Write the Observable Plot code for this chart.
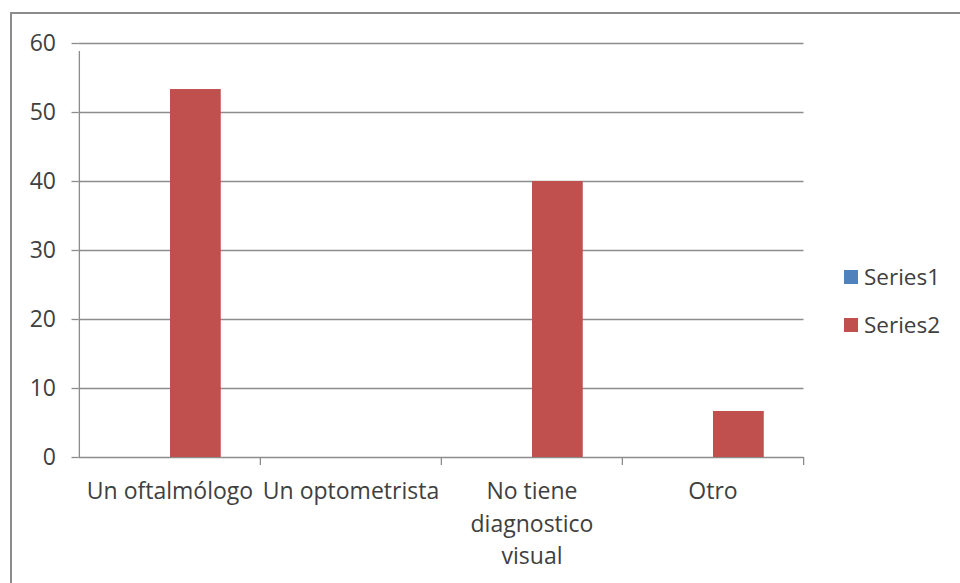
<!DOCTYPE html>
<html><head><meta charset="utf-8">
<script src="https://cdn.jsdelivr.net/npm/d3@7"></script>
<script src="https://cdn.jsdelivr.net/npm/@observablehq/plot@0.6"></script>
<style>
html,body{margin:0;padding:0;background:#fff;overflow:hidden;}
#wrap{position:relative;width:960px;height:583px;overflow:hidden;}
#border{position:absolute;left:10px;top:12px;width:1000px;height:700px;border:2px solid #8c8c8c;box-sizing:border-box;}
#chart{position:absolute;left:0;top:0;}
#legend{position:absolute;left:844px;top:262px;}
#legend .lg-swatch{font-family:"Open Sans",sans-serif;font-size:22.5px;line-height:30px;color:#404040;margin-bottom:18px;padding-bottom:0;}
#legend .lg-swatch svg{margin-right:6px;}
</style></head><body>
<div id="wrap"><div id="border"></div><div id="chart"></div><div id="legend"></div></div>
<script>
const categories = ["Un oftalmólogo", "Un optometrista", "No tiene diagnostico visual", "Otro"];
const seriesNames = ["Series1", "Series2"];
const series1 = [0, 0, 0, 0];
const series2 = [53.33, 0, 40, 6.67];
const xTickLabels = ["Un oftalmólogo", "Un optometrista", "No tiene\ndiagnostico\nvisual", "Otro"];
const yTicks = [0, 10, 20, 30, 40, 50, 60];
const seriesColors = ["#4F81BD", "#C0504D"];

const rows = [];
categories.forEach((c, i) => {
  rows.push({category: c, series: seriesNames[0], value: series1[i]});
  rows.push({category: c, series: seriesNames[1], value: series2[i]});
});

const W = 960, H = 583;
const mL = 78.5, mR = 156.5, mT = 43, mB = 126;
const bw = (W - mL - mR) / categories.length;
const barW = 51, off = 91;
const gray = "#8c8c8c";

const chart = Plot.plot({
  width: W, height: H,
  marginLeft: mL, marginRight: mR, marginTop: mT, marginBottom: mB,
  style: {fontFamily: "Open Sans, sans-serif", fontSize: "23px", color: "#404040", background: "transparent"},
  x: {type: "band", domain: categories, padding: 0},
  y: {domain: [0, 60]},
  color: {domain: seriesNames, range: seriesColors},
  marks: [
    Plot.gridY(yTicks, {stroke: gray, strokeOpacity: 1, strokeWidth: 1.3}),
    Plot.axisY(yTicks, {tickSize: 7, tickPadding: 16, stroke: gray, strokeOpacity: 1, strokeWidth: 1.3, fill: "#404040", label: null}),
    Plot.barY(rows.filter(d => d.series === seriesNames[0]), {x: "category", y: "value", fill: "series", insetLeft: bw - off - barW, insetRight: off}),
    Plot.barY(rows.filter(d => d.series === seriesNames[1]), {x: "category", y: "value", fill: "series", insetLeft: off, insetRight: bw - off - barW}),
    Plot.ruleX([categories[0]], {x: d => d, dx: -bw / 2, y1: 0, y2: 60, insetBottom: -8, stroke: gray, strokeWidth: 1.3}),
    Plot.ruleX(categories.slice(1), {x: d => d, dx: -bw / 2, y1: 0, y2: 0, insetBottom: -8, stroke: gray, strokeWidth: 1.3}),
    Plot.ruleX([categories[categories.length - 1]], {x: d => d, dx: bw / 2, y1: 0, y2: 0, insetBottom: -8, stroke: gray, strokeWidth: 1.3}),
    Plot.axisX({tickSize: 0, tickPadding: 19, lineHeight: 1.4, fill: "#404040", label: null,
      tickFormat: d => xTickLabels[categories.indexOf(d)]})
  ]
});
document.getElementById("chart").appendChild(chart);

const legend = Plot.legend({
  color: {domain: seriesNames, range: seriesColors},
  columns: 1, swatchSize: 14, className: "lg"
});
document.getElementById("legend").appendChild(legend);
</script>
</body></html>
